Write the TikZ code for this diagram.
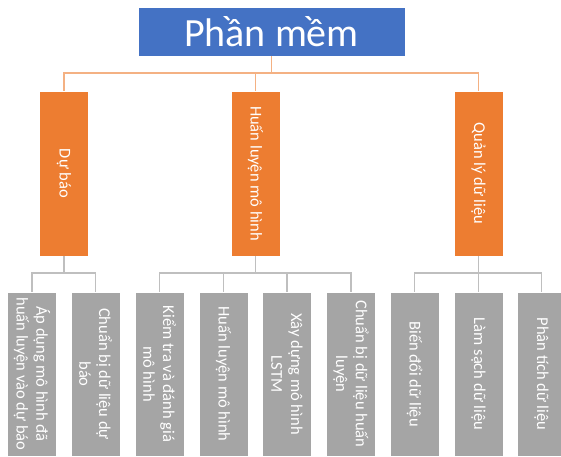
\documentclass[tikz,border=0pt]{standalone}
\usepackage{fontspec}
\setmainfont{Carlito}
\definecolor{topblue}{HTML}{4472C4}
\definecolor{midorange}{HTML}{ED7D31}
\definecolor{leafgray}{HTML}{A5A5A5}
\definecolor{orangeline}{HTML}{F4B183}
\definecolor{grayline}{HTML}{BFBFBF}

\begin{document}
\begin{tikzpicture}[x=1pt, y=1pt,
    topbox/.style={draw=white, line width=0.8pt, fill=topblue, text=white, minimum width=267pt, minimum height=49pt, inner sep=0pt, font=\fontsize{40}{48}\selectfont},
    midbox/.style={draw=white, line width=0.8pt, fill=midorange, text=white, rotate=-90, minimum width=165pt, minimum height=49pt, inner sep=0pt, align=center, font=\fontsize{16.5}{19.8}\selectfont},
    leafbox/.style={midbox, fill=leafgray, minimum width=164pt},
    orangelink/.style={draw=orangeline, line width=1.2pt},
    graylink/.style={draw=grayline, line width=1.2pt}]
    \useasboundingbox (0, 0) rectangle (561, 456);

    % nodes: top, level 1
    \node[topbox] (pm) at (271.5, 424.5) {Phần mềm};
    \node[midbox] (db) at (64, 282.5) {Dự báo};
    \node[midbox] (hl) at (255.5, 282.5) {Huấn luyện mô hình};
    \node[midbox] (ql) at (478.5, 282.5) {Quản lý dữ liệu};
    % nodes: leaves
    \node[leafbox] (ad) at (32, 82) {Áp dụng mô hình đã\\huấn luyện vào dự báo};
    \node[leafbox] (cbd) at (95.5, 82) {Chuẩn bị dữ liệu dự\\báo};
    \node[leafbox] (kt) at (159.5, 82) {Kiểm tra và đánh giá\\mô hình};
    \node[leafbox] (hm) at (223.5, 82) {Huấn luyện mô hình};
    \node[leafbox] (xd) at (287, 82) {Xây dựng mô hình\\LSTM};
    \node[leafbox] (cbh) at (351, 82) {Chuẩn bị dữ liệu huấn\\luyện};
    \node[leafbox] (bd) at (414.5, 82) {Biến đổi dữ liệu};
    \node[leafbox] (ls) at (478.5, 82) {Làm sạch dữ liệu};
    \node[leafbox] (pt) at (541.5, 82) {Phân tích dữ liệu};

    % joints
    \coordinate (j0) at (271.5, 383);
    \coordinate (j1) at (64, 183);
    \coordinate (j2) at (255.5, 183);
    \coordinate (j3) at (478.5, 183);

    % edges: top to level 1
    \draw[orangelink] (pm) -- (j0);
    \draw[orangelink] (j0) -| (db);
    \draw[orangelink] (j0) -| (hl);
    \draw[orangelink] (j0) -| (ql);
    % edges: level 1 to leaves
    \draw[graylink] (db) -- (j1);
    \draw[graylink] (j1) -| (ad);
    \draw[graylink] (j1) -| (cbd);
    \draw[graylink] (hl) -- (j2);
    \draw[graylink] (j2) -| (kt);
    \draw[graylink] (j2) -| (hm);
    \draw[graylink] (j2) -| (xd);
    \draw[graylink] (j2) -| (cbh);
    \draw[graylink] (ql) -- (j3);
    \draw[graylink] (j3) -| (bd);
    \draw[graylink] (j3) -| (ls);
    \draw[graylink] (j3) -| (pt);
\end{tikzpicture}
\end{document}
